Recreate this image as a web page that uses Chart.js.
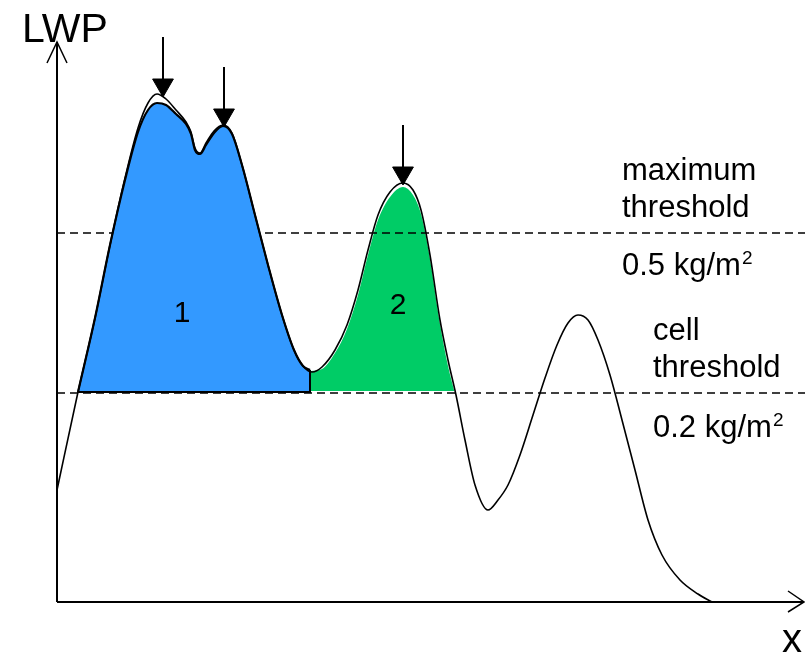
<!DOCTYPE html>
<html>
<head>
<meta charset="utf-8">
<script src="https://cdn.jsdelivr.net/npm/chart.js@4.4.0/dist/chart.umd.min.js"></script>
<style>
  body { margin: 0; background: #fff; }
  #wrap { width: 805px; height: 658px; }
</style>
</head>
<body>
<div id="wrap"><canvas id="canvas" width="805" height="658"></canvas></div>
<script>
// LWP profile along x (arbitrary units)
var curveX = [0, 21, 38, 53, 68, 81, 91, 100, 109, 119, 129, 134, 138, 143, 149, 157, 166, 175, 185, 198, 211, 225, 237, 246, 255,
  265, 278, 290, 301, 311, 321, 333, 346, 356, 364, 373, 383, 391, 399, 408, 418, 431, 441, 451, 463, 476, 488, 500, 511, 521,
  531, 541, 553, 565, 578, 591, 605, 623, 641, 655];
var curveY = [112, 210, 284, 357, 424, 474, 499, 508, 503, 492, 480, 470, 454, 449, 459, 471, 477, 469, 437, 387, 337, 287, 252, 236, 230,
  235, 252, 277, 312, 352, 387, 410, 419, 412, 392, 347, 282, 242, 207, 162, 117, 92, 102, 117, 147, 187, 224, 257, 279, 287,
  282, 262, 227, 182, 132, 82, 47, 22, 8, 0];

// cell 1 (blue) outline
var cell1X = [21, 38, 53, 68, 81, 91, 100, 109, 119, 129, 134, 138, 143, 149, 157, 166, 175, 185, 198, 211, 225, 237, 246, 253];
var cell1Y = [210, 284, 357, 422, 470, 492, 499, 497, 488, 478, 468, 452, 448, 457, 469, 476, 468, 437, 387, 337, 287, 252, 236, 232];
var cell1EdgeX = [253, 253, 21];
var cell1EdgeY = [232, 210, 210];

// cell 2 (green)
var cell2X = [254, 265, 278, 290, 301, 311, 321, 333, 346, 356, 364, 373, 383, 391, 397];
var cell2Y = [231, 233, 249, 273, 307, 347, 382, 405, 415, 407, 388, 343, 278, 236, 212];

// thresholds
var maxThreshold = 369;   // 0.5 kg/m2
var cellThreshold = 209;  // 0.2 kg/m2
var xEnd = 748;

// detected maxima (arrows)
var peakX = [106, 167, 346];
var peakHead = [517, 487, 429];
var peakTail = [565, 535, 477];

function pts(xs, ys) {
  return xs.map(function (x, i) { return { x: x, y: ys[i] }; });
}

var datasets = [];

// arrows
for (var i = 0; i < peakX.length; i++) {
  datasets.push({
    data: [{ x: peakX[i], y: peakTail[i] }, { x: peakX[i], y: peakHead[i] }],
    borderColor: '#000', borderWidth: 2, pointRadius: 0, tension: 0, clip: false, order: 1
  });
}
datasets.push({
  data: pts(peakX, peakHead),
  showLine: false, pointStyle: 'triangle', rotation: 180, pointRadius: 12,
  backgroundColor: '#000', borderColor: '#000', borderWidth: 1, clip: false, order: 1
});

// axes
datasets.push({ data: [{ x: 0, y: 0 }, { x: 0, y: 560 }], borderColor: '#000', borderWidth: 2, pointRadius: 0, clip: false, order: 2 });
datasets.push({ data: [{ x: -10, y: 539 }, { x: 0, y: 560 }, { x: 10, y: 539 }], borderColor: '#000', borderWidth: 1.5, pointRadius: 0, clip: false, order: 2 });
datasets.push({ data: [{ x: 0, y: 0 }, { x: 747, y: 0 }], borderColor: '#000', borderWidth: 2, pointRadius: 0, clip: false, order: 2 });
datasets.push({ data: [{ x: 731, y: 11 }, { x: 747, y: 0 }, { x: 731, y: -10 }], borderColor: '#000', borderWidth: 1.5, pointRadius: 0, clip: false, order: 2 });

// main curve
datasets.push({
  data: pts(curveX, curveY), borderColor: '#000', borderWidth: 1.6, pointRadius: 0,
  cubicInterpolationMode: 'monotone', clip: false, order: 4
});

// cell 1
datasets.push({
  data: pts(cell1EdgeX, cell1EdgeY), borderColor: '#000', borderWidth: 2, pointRadius: 0, tension: 0, order: 5
});
datasets.push({
  data: pts(cell1X, cell1Y), borderColor: '#000', borderWidth: 2.2, pointRadius: 0,
  backgroundColor: '#3399ff', fill: { value: 210 }, cubicInterpolationMode: 'monotone', order: 6
});

// thresholds
datasets.push({
  data: [{ x: 0, y: maxThreshold }, { x: xEnd, y: maxThreshold }], borderColor: '#000', borderWidth: 1.5,
  borderDash: [8, 5], pointRadius: 0, clip: false, order: 8
});
datasets.push({
  data: [{ x: 0, y: cellThreshold }, { x: xEnd, y: cellThreshold }], borderColor: '#000', borderWidth: 1.5,
  borderDash: [8, 5], pointRadius: 0, clip: false, order: 8
});

// cell 2
datasets.push({
  data: pts(cell2X, cell2Y), borderWidth: 0, borderColor: 'rgba(0,0,0,0)', pointRadius: 0,
  backgroundColor: '#00cc66', fill: { value: 211 }, cubicInterpolationMode: 'monotone', order: 10
});

// text labels: [text, x, y, font size, superscript]
var notes = [
  ['LWP', -35, 560, 41, ''],
  ['x', 725, -50, 40, ''],
  ['1', 125, 280, 30, ''],
  ['2', 341, 288, 30, ''],
  ['maximum', 565, 422, 31, ''],
  ['threshold', 565, 385, 31, ''],
  ['0.5 kg/m', 565, 327, 31, '2'],
  ['cell', 596, 262, 31, ''],
  ['threshold', 596, 225, 31, ''],
  ['0.2 kg/m', 596, 165, 31, '2']
];

var textPlugin = {
  id: 'notes',
  afterDraw: function (chart) {
    var ctx = chart.ctx;
    var sx = chart.scales.x, sy = chart.scales.y;
    ctx.save();
    ctx.fillStyle = '#000';
    ctx.textBaseline = 'alphabetic';
    notes.forEach(function (n) {
      var px = sx.getPixelForValue(n[1]);
      var py = sy.getPixelForValue(n[2]);
      ctx.font = n[3] + 'px "Liberation Sans", Arial, sans-serif';
      ctx.textAlign = (n[0] === '1' || n[0] === '2') ? 'center' : 'left';
      ctx.fillText(n[0], px, py);
      if (n[4]) {
        var w = ctx.measureText(n[0]).width;
        ctx.font = Math.round(n[3] * 0.62) + 'px "Liberation Sans", Arial, sans-serif';
        ctx.fillText(n[4], px + w + 1, py - n[3] * 0.36);
      }
    });
    ctx.restore();
  }
};

new Chart(document.getElementById('canvas').getContext('2d'), {
  type: 'line',
  data: { datasets: datasets },
  options: {
    responsive: false,
    animation: false,
    devicePixelRatio: 1,
    layout: { autoPadding: false, padding: { left: 57, right: 0, top: 42, bottom: 56 } },
    scales: {
      x: { type: 'linear', min: 0, max: 748, display: false },
      y: { type: 'linear', min: 0, max: 560, display: false }
    },
    plugins: { legend: { display: false }, tooltip: { enabled: false } }
  },
  plugins: [textPlugin]
});
</script>
</body>
</html>
